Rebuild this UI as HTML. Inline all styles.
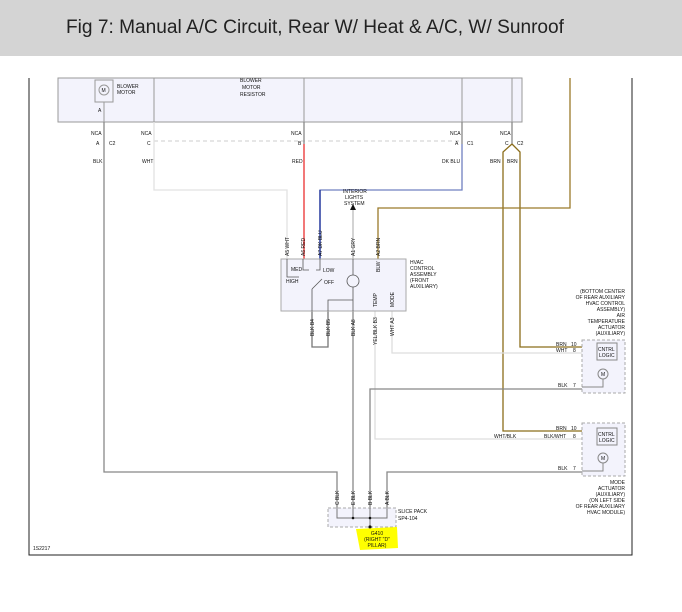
<!DOCTYPE html>
<html><head><meta charset="utf-8"><style>
html,body{margin:0;padding:0;background:#fff;width:682px;height:612px;overflow:hidden}
svg{display:block}
text{font-family:"Liberation Sans",sans-serif;}
.s{font-size:5px;fill:#111}
</style></head><body>
<svg width="682" height="612" viewBox="0 0 682 612" xmlns="http://www.w3.org/2000/svg">
<rect x="0" y="0" width="682" height="56" fill="#d4d4d4"/>
<text x="66" y="33" font-size="19" fill="#222" textLength="498" lengthAdjust="spacingAndGlyphs">Fig 7: Manual A/C Circuit, Rear W/ Heat &amp; A/C, W/ Sunroof</text>

<!-- frame -->
<path d="M29 78V555H632V78" fill="none" stroke="#222" stroke-width="1"/>

<!-- top component box -->
<rect x="58" y="78" width="464" height="44" fill="#f3f3fc" stroke="#999" stroke-width="1"/>
<g stroke="#999" stroke-width="1" fill="none">
<rect x="95" y="80" width="18" height="22" fill="#f3f3fc"/>
<circle cx="104" cy="90" r="5"/>
<line x1="154" y1="78" x2="154" y2="122"/><line x1="304" y1="78" x2="304" y2="122"/>
<line x1="462" y1="78" x2="462" y2="122"/><line x1="512" y1="78" x2="512" y2="122"/>
<line x1="104" y1="102" x2="104" y2="122"/>
</g>
<text class="s" x="101.5" y="92">M</text>
<text class="s" x="117" y="88">BLOWER</text><text class="s" x="117" y="94">MOTOR</text>
<text class="s" x="240" y="82">BLOWER</text><text class="s" x="242" y="89">MOTOR</text><text class="s" x="240" y="96">RESISTOR</text>
<text class="s" x="98" y="112">A</text>

<!-- connector row -->
<line x1="154" y1="141" x2="462" y2="141" stroke="#ccc" stroke-dasharray="4,3"/>
<g class="s">
<text x="91" y="135">NCA</text><text x="141" y="135">NCA</text><text x="291" y="135">NCA</text><text x="450" y="135">NCA</text><text x="500" y="135">NCA</text>
<text x="96" y="145">A</text><text x="109" y="145">C2</text><text x="147" y="145">C</text><text x="298" y="145">B</text><text x="455" y="145">A</text><text x="467" y="145">C1</text><text x="505" y="145">C</text><text x="517" y="145">C2</text>
<text x="93" y="163">BLK</text><text x="142" y="163">WHT</text><text x="292" y="163">RED</text><text x="442" y="163">DK BLU</text><text x="490" y="163">BRN</text><text x="507" y="163">BRN</text>
</g>

<!-- wires -->
<g fill="none" stroke-width="1.3">
<path d="M104 122V472H337V508" stroke="#888"/>
<path d="M154 122V190H287V259" stroke="#e2e2e2"/>
<path d="M304 122V259" stroke="#888"/>
<path d="M304 144V259" stroke="#f44"/>
<path d="M462 122V144" stroke="#888"/>
<path d="M462 144V190H320V259" stroke="#7080c0"/>
<path d="M320 190V259" stroke="#1a2f9a"/>
<path d="M512 122V144" stroke="#888"/>
<path d="M512 144L503 152V431H582" stroke="#8b6d1a"/>
<path d="M512 144L520 152V347H582" stroke="#8b6d1a"/>
<path d="M570 78V208H378V259" stroke="#9a7a2a"/>
<path d="M353 259V204" stroke="#bbb"/>
<path d="M312 311V347H328V311" stroke="#777"/>
<path d="M353 311V508" stroke="#888"/>
<path d="M375 311V439H582" stroke="#ddd"/>
<path d="M392 311V353H582" stroke="#ddd"/>
<path d="M370 508V389H582" stroke="#888"/>
<path d="M387 508V472H582" stroke="#888"/>
</g>
<polygon points="350,210 356,210 353,204" fill="#111"/>
<text class="s" x="343" y="193">INTERIOR</text><text class="s" x="345" y="199">LIGHTS</text><text class="s" x="344" y="205">SYSTEM</text>

<!-- HVAC box -->
<rect x="281" y="259" width="125" height="52" fill="#f3f3fc" stroke="#aaa"/>
<g stroke="#555" fill="none" stroke-width="0.8">
<path d="M287 259V277H299"/><path d="M303 259V270H309"/><path d="M320 259V270H316"/>
<line x1="312" y1="289" x2="322" y2="279"/><path d="M312 289V311"/>
<circle cx="353" cy="281" r="6"/><path d="M353 259V275M353 287V311"/>
<path d="M328 311V300H353"/>
</g>
<g class="s">
<text x="291" y="271">MED</text><text x="323" y="272">LOW</text><text x="286" y="283">HIGH</text><text x="324" y="284">OFF</text>
<text x="410" y="264">HVAC</text><text x="410" y="270">CONTROL</text><text x="410" y="276">ASSEMBLY</text><text x="410" y="282">(FRONT</text><text x="410" y="288">AUXILIARY)</text>
</g>
<g class="s">
<text transform="translate(289,256) rotate(-90)">A5 WHT</text>
<text transform="translate(305,256) rotate(-90)">A6 RED</text>
<text transform="translate(322,256) rotate(-90)">A7 DK BLU</text>
<text transform="translate(355,256) rotate(-90)">A1 GRY</text>
<text transform="translate(380,256) rotate(-90)">A2 BRN</text>
<text transform="translate(380,272) rotate(-90)">BLW</text>
<text transform="translate(377,307) rotate(-90)">TEMP</text>
<text transform="translate(394,307) rotate(-90)">MODE</text>
<text transform="translate(314,336) rotate(-90)">BLK B4</text>
<text transform="translate(330,336) rotate(-90)">BLK B5</text>
<text transform="translate(355,336) rotate(-90)">BLK A8</text>
<text transform="translate(377,345) rotate(-90)">YEL/BLK B3</text>
<text transform="translate(394,336) rotate(-90)">WHT A3</text>
</g>

<!-- actuators -->
<rect x="582" y="340" width="43" height="53" fill="#f3f3fc" stroke="#aaa" stroke-dasharray="3,2"/>
<rect x="597" y="343" width="20" height="17" fill="#f3f3fc" stroke="#888"/>
<circle cx="603" cy="374" r="5" fill="none" stroke="#888"/>
<path d="M603 379V387H582" fill="none" stroke="#888"/>
<rect x="582" y="423" width="43" height="53" fill="#f3f3fc" stroke="#aaa" stroke-dasharray="3,2"/>
<rect x="597" y="428" width="20" height="17" fill="#f3f3fc" stroke="#888"/>
<circle cx="603" cy="458" r="5" fill="none" stroke="#888"/>
<path d="M603 463V471H582" fill="none" stroke="#888"/>
<g class="s">
<text x="598" y="351">CNTRL</text><text x="599" y="357">LOGIC</text><text x="601" y="376">M</text>
<text x="598" y="436">CNTRL</text><text x="599" y="442">LOGIC</text><text x="601" y="460">M</text>
<text x="556" y="346">BRN</text><text x="571" y="346">10</text><text x="556" y="352">WHT</text><text x="573" y="352">8</text><text x="558" y="387">BLK</text><text x="573" y="387">7</text>
<text x="556" y="430">BRN</text><text x="571" y="430">10</text><text x="544" y="438">BLK/WHT</text><text x="573" y="438">8</text><text x="494" y="438">WHT/BLK</text><text x="558" y="470">BLK</text><text x="573" y="470">7</text>
</g>
<g class="s" text-anchor="end">
<text x="625" y="293">(BOTTOM CENTER</text><text x="625" y="299">OF REAR AUXILIARY</text><text x="625" y="305">HVAC CONTROL</text><text x="625" y="311">ASSEMBLY)</text><text x="625" y="317">AIR</text><text x="625" y="323">TEMPERATURE</text><text x="625" y="329">ACTUATOR</text><text x="625" y="335">(AUXILIARY)</text>
<text x="625" y="484">MODE</text><text x="625" y="490">ACTUATOR</text><text x="625" y="496">(AUXILIARY)</text><text x="625" y="502">(ON LEFT SIDE</text><text x="625" y="508">OF REAR AUXILIARY</text><text x="625" y="514">HVAC MODULE)</text>
</g>

<!-- splice pack -->
<rect x="328" y="508" width="68" height="19" fill="#f3f3fc" stroke="#aaa" stroke-dasharray="3,2"/>
<path d="M337 508V518H387V508M353 508V518M370 508V527" fill="none" stroke="#777"/>
<circle cx="353" cy="518" r="1.3" fill="#111"/><circle cx="370" cy="518" r="1.3" fill="#111"/><circle cx="370" cy="527" r="1.6" fill="#111"/>
<g class="s">
<text transform="translate(339,505) rotate(-90)">C BLK</text>
<text transform="translate(355,505) rotate(-90)">E BLK</text>
<text transform="translate(372,505) rotate(-90)">B BLK</text>
<text transform="translate(389,505) rotate(-90)">A BLK</text>
<text x="398" y="513">SLICE PACK</text><text x="398" y="520">SP4-104</text>
</g>
<path d="M356 529L397 527L398 548L360 550Z" fill="#ffff00"/>
<g class="s" text-anchor="middle"><text x="377" y="535">G410</text><text x="377" y="541">(RIGHT "D"</text><text x="377" y="547">PILLAR)</text></g>
<text class="s" x="33" y="550">1S2217</text>
</svg>
</body></html>
